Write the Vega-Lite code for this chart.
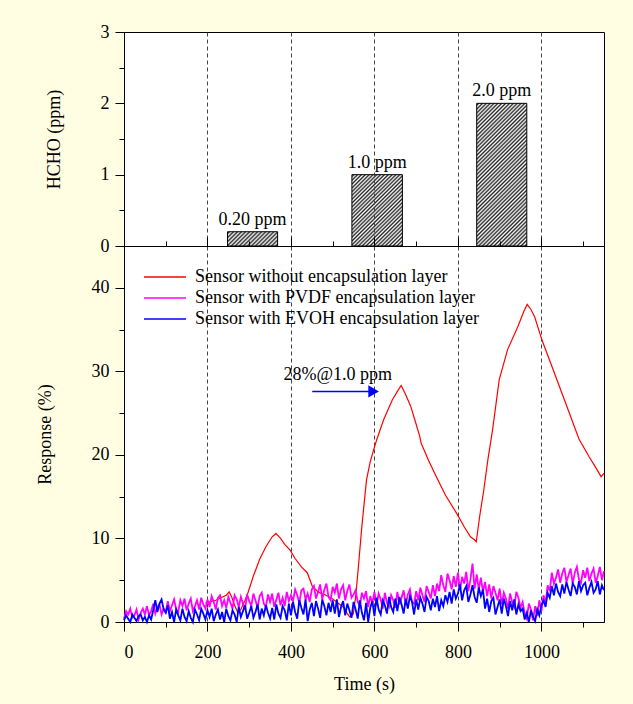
{
"$schema":"https://vega.github.io/schema/vega-lite/v6.json",
"background":"#FFFEE3",
"padding":{"left":35,"top":22,"right":30,"bottom":11},
"spacing":0,
"bounds":"flush",
"config":{
 "view":{"stroke":"black","strokeWidth":1,"fill":"white"},
 "font":"Liberation Serif",
 "axis":{"domainColor":"black","domainWidth":1,"tickColor":"black","tickWidth":1,"labelFont":"Liberation Serif","labelFontSize":18,"labelColor":"black","titleFont":"Liberation Serif","titleFontSize":18,"titleFontWeight":"normal","titleColor":"black","gridColor":"#444444","gridDash":[4,3],"gridWidth":1}
},
"datasets":{
 "bars":[
  {"start":248,"end":368,"mid":308,"c":0.2,"label":"0.20 ppm"},
  {"start":546,"end":667,"mid":606.5,"c":1.0,"label":"1.0 ppm"},
  {"start":845,"end":965,"mid":905,"c":2.0,"label":"2.0 ppm"}
 ],
 "red":[
  {"t":195,"r":2.3},{"t":205,"r":2.4},{"t":220,"r":2.6},{"t":232,"r":2.9},{"t":245,"r":3.2},{"t":252,"r":3.6},{"t":258,"r":3.0},{"t":265,"r":2.0},{"t":272,"r":1.2},{"t":280,"r":1.5},{"t":290,"r":2.6},{"t":297,"r":3.5},{"t":310,"r":5.5},{"t":325,"r":7.5},{"t":340,"r":9.0},{"t":355,"r":10.2},{"t":364,"r":10.6},{"t":375,"r":10.0},{"t":385,"r":9.3},{"t":398,"r":8.6},{"t":410,"r":7.6},{"t":425,"r":6.6},{"t":439,"r":5.9},{"t":451,"r":4.3},{"t":465,"r":3.6},{"t":480,"r":3.3},{"t":496,"r":2.9},{"t":512,"r":2.3},{"t":529,"r":1.6},{"t":535,"r":1.0},{"t":541,"r":0.6},{"t":549,"r":0.9},{"t":555,"r":3.0},{"t":561,"r":6.3},{"t":570,"r":11.5},{"t":581,"r":17.0},{"t":590,"r":19.2},{"t":598,"r":20.6},{"t":606,"r":21.9},{"t":622,"r":24.2},{"t":643,"r":26.6},{"t":655,"r":27.6},{"t":664,"r":28.3},{"t":675,"r":27.2},{"t":687,"r":25.8},{"t":698,"r":24.0},{"t":708,"r":22.3},{"t":712,"r":21.4},{"t":730,"r":19.3},{"t":748,"r":17.4},{"t":770,"r":15.2},{"t":797,"r":13.0},{"t":815,"r":11.4},{"t":830,"r":10.2},{"t":838,"r":9.9},{"t":844,"r":9.6},{"t":852,"r":12.6},{"t":862,"r":15.8},{"t":872,"r":19.5},{"t":883,"r":23.0},{"t":899,"r":29.0},{"t":919,"r":32.6},{"t":944,"r":35.4},{"t":958,"r":37.2},{"t":966,"r":38.0},{"t":975,"r":37.4},{"t":984,"r":36.5},{"t":1001,"r":33.8},{"t":1025,"r":30.6},{"t":1058,"r":26.2},{"t":1090,"r":21.9},{"t":1114,"r":19.8},{"t":1130,"r":18.5},{"t":1143,"r":17.4},{"t":1150,"r":17.8}
 ],
 "noisy":[
  {"t":0,"p":0.4,"b":0.2},{"t":5,"p":1.3,"b":0.8},{"t":10,"p":0.9,"b":0.4},{"t":15,"p":1.6,"b":0.0},{"t":20,"p":0.5,"b":0.9},{"t":25,"p":0.8,"b":0.5},{"t":30,"p":1.5,"b":0.1},{"t":35,"p":0.3,"b":0.7},{"t":40,"p":1.1,"b":0.9},{"t":45,"p":1.6,"b":0.2},{"t":50,"p":0.9,"b":0.6},
  {"t":55,"p":1.9,"b":0.0},{"t":60,"p":0.8,"b":0.8},{"t":65,"p":1.3,"b":0.3},{"t":70,"p":2.2,"b":1.4},{"t":75,"p":1.0,"b":2.6},{"t":80,"p":1.8,"b":1.2},{"t":85,"p":2.1,"b":2.2},{"t":90,"p":0.9,"b":2.7},{"t":95,"p":1.6,"b":1.5},{"t":100,"p":1.2,"b":1.1},
  {"t":105,"p":2.5,"b":2.0},{"t":110,"p":1.3,"b":0.4},{"t":115,"p":2.0,"b":1.2},{"t":120,"p":2.7,"b":0.0},{"t":125,"p":1.5,"b":1.5},{"t":130,"p":1.2,"b":0.8},{"t":135,"p":2.6,"b":0.2},{"t":140,"p":1.9,"b":1.6},{"t":145,"p":2.8,"b":0.6},{"t":150,"p":1.4,"b":0.1},
  {"t":155,"p":2.2,"b":1.3},{"t":160,"p":2.8,"b":0.5},{"t":165,"p":1.3,"b":0.0},{"t":170,"p":1.9,"b":1.5},{"t":175,"p":2.6,"b":0.9},{"t":180,"p":1.5,"b":0.2},{"t":185,"p":2.9,"b":1.6},{"t":190,"p":2.1,"b":1.0},{"t":195,"p":1.6,"b":0.3},{"t":200,"p":2.7,"b":1.4},
  {"t":205,"p":1.8,"b":0.6},{"t":210,"p":3.1,"b":1.6},{"t":215,"p":2.4,"b":0.1},{"t":220,"p":1.5,"b":0.9},{"t":225,"p":2.9,"b":1.5},{"t":230,"p":3.2,"b":0.3},{"t":235,"p":1.9,"b":1.2},{"t":240,"p":2.6,"b":0.0},{"t":245,"p":1.7,"b":1.6},{"t":250,"p":3.0,"b":0.7},
  {"t":255,"p":2.3,"b":0.2},{"t":260,"p":1.6,"b":1.4},{"t":265,"p":3.2,"b":0.9},{"t":270,"p":2.7,"b":0.0},{"t":275,"p":1.8,"b":1.8},{"t":280,"p":3.0,"b":0.6},{"t":285,"p":2.2,"b":1.3},{"t":290,"p":1.5,"b":2.0},{"t":295,"p":3.3,"b":0.4},{"t":300,"p":2.5,"b":1.1},
  {"t":305,"p":1.9,"b":1.9},{"t":310,"p":3.4,"b":0.5},{"t":315,"p":2.6,"b":1.2},{"t":320,"p":1.7,"b":2.1},{"t":325,"p":3.1,"b":0.3},{"t":330,"p":3.5,"b":1.6},{"t":335,"p":2.2,"b":0.8},{"t":340,"p":1.8,"b":2.0},{"t":345,"p":3.3,"b":1.1},{"t":350,"p":2.4,"b":0.4},
  {"t":355,"p":3.4,"b":1.7},{"t":360,"p":1.8,"b":0.3},{"t":365,"p":2.7,"b":2.1},{"t":370,"p":3.5,"b":1.0},{"t":375,"p":2.0,"b":0.5},{"t":380,"p":2.9,"b":1.9},{"t":385,"p":1.9,"b":1.4},{"t":390,"p":3.6,"b":0.2},{"t":395,"p":2.5,"b":2.2},{"t":400,"p":3.2,"b":0.8},
  {"t":405,"p":2.5,"b":2.4},{"t":410,"p":3.9,"b":1.2},{"t":415,"p":3.2,"b":0.4},{"t":420,"p":2.3,"b":2.6},{"t":425,"p":3.8,"b":1.7},{"t":430,"p":4.0,"b":0.9},{"t":435,"p":2.7,"b":2.7},{"t":440,"p":3.4,"b":0.1},{"t":445,"p":2.4,"b":1.5},{"t":450,"p":3.9,"b":2.3},
  {"t":455,"p":4.3,"b":0.7},{"t":460,"p":2.8,"b":2.5},{"t":465,"p":3.6,"b":1.6},{"t":470,"p":4.5,"b":0.5},{"t":475,"p":2.7,"b":2.7},{"t":480,"p":3.9,"b":1.9},{"t":485,"p":4.6,"b":0.8},{"t":490,"p":3.0,"b":2.3},{"t":495,"p":2.6,"b":1.2},{"t":500,"p":4.2,"b":2.6},
  {"t":505,"p":3.5,"b":1.0},{"t":510,"p":4.6,"b":2.7},{"t":515,"p":2.8,"b":0.6},{"t":520,"p":3.9,"b":1.8},{"t":525,"p":4.4,"b":2.5},{"t":530,"p":2.6,"b":0.8},{"t":535,"p":3.7,"b":2.2},{"t":540,"p":4.5,"b":1.4},{"t":545,"p":2.9,"b":0.5},{"t":550,"p":3.3,"b":2.4},
  {"t":555,"p":3.8,"b":1.5},{"t":560,"p":2.4,"b":0.4},{"t":565,"p":1.9,"b":2.6},{"t":570,"p":3.5,"b":1.1},{"t":575,"p":2.8,"b":0.2},{"t":580,"p":3.7,"b":2.3},{"t":585,"p":1.8,"b":0.0},{"t":590,"p":3.1,"b":1.7},{"t":595,"p":2.2,"b":2.5},{"t":600,"p":3.6,"b":0.7},
  {"t":605,"p":2.0,"b":2.9},{"t":610,"p":3.4,"b":1.5},{"t":615,"p":2.7,"b":0.9},{"t":620,"p":1.6,"b":2.6},{"t":625,"p":3.5,"b":2.0},{"t":630,"p":2.3,"b":1.0},{"t":635,"p":1.8,"b":3.0},{"t":640,"p":3.2,"b":1.8},{"t":645,"p":2.6,"b":1.2},{"t":650,"p":1.7,"b":2.8},
  {"t":655,"p":3.6,"b":1.3},{"t":660,"p":2.1,"b":3.0},{"t":665,"p":2.9,"b":2.1},{"t":670,"p":3.8,"b":1.0},{"t":675,"p":2.0,"b":2.8},{"t":680,"p":3.3,"b":1.6},{"t":685,"p":3.9,"b":3.1},{"t":690,"p":2.4,"b":2.4},{"t":695,"p":2.2,"b":0.9},{"t":700,"p":3.7,"b":2.7},
  {"t":705,"p":2.6,"b":1.5},{"t":710,"p":4.1,"b":2.9},{"t":715,"p":3.2,"b":2.2},{"t":720,"p":2.4,"b":1.2},{"t":725,"p":4.3,"b":3.0},{"t":730,"p":3.6,"b":2.5},{"t":735,"p":2.8,"b":1.4},{"t":740,"p":4.4,"b":2.8},{"t":745,"p":3.1,"b":1.8},{"t":750,"p":4.6,"b":3.1},
  {"t":755,"p":3.7,"b":1.3},{"t":760,"p":5.6,"b":2.6},{"t":765,"p":4.4,"b":1.9},{"t":770,"p":3.6,"b":3.2},{"t":775,"p":5.8,"b":2.4},{"t":780,"p":5.0,"b":3.6},{"t":785,"p":3.9,"b":2.2},{"t":790,"p":5.5,"b":3.9},{"t":795,"p":4.2,"b":2.8},{"t":800,"p":5.9,"b":3.4},
  {"t":805,"p":3.8,"b":4.5},{"t":810,"p":5.4,"b":2.6},{"t":815,"p":4.6,"b":3.8},{"t":820,"p":6.0,"b":4.3},{"t":825,"p":3.7,"b":2.4},{"t":830,"p":5.1,"b":3.3},{"t":835,"p":7.0,"b":4.4},{"t":840,"p":4.0,"b":3.0},{"t":845,"p":5.7,"b":2.3},{"t":850,"p":3.9,"b":4.1},
  {"t":855,"p":5.3,"b":3.1},{"t":860,"p":3.6,"b":3.9},{"t":865,"p":4.8,"b":1.6},{"t":870,"p":3.1,"b":2.8},{"t":875,"p":4.5,"b":1.2},{"t":880,"p":2.8,"b":2.5},{"t":885,"p":4.3,"b":2.9},{"t":890,"p":3.5,"b":0.9},{"t":895,"p":2.6,"b":1.8},{"t":900,"p":4.0,"b":2.7},
  {"t":905,"p":2.1,"b":1.0},{"t":910,"p":3.5,"b":2.8},{"t":915,"p":2.8,"b":1.9},{"t":920,"p":1.6,"b":0.7},{"t":925,"p":3.4,"b":2.5},{"t":930,"p":2.4,"b":1.4},{"t":935,"p":1.8,"b":2.7},{"t":940,"p":3.6,"b":0.9},{"t":945,"p":2.9,"b":2.1},{"t":950,"p":1.7,"b":1.3},
  {"t":955,"p":2.4,"b":1.6},{"t":960,"p":1.0,"b":0.3},{"t":965,"p":0.4,"b":1.1},{"t":970,"p":2.2,"b":0.0},{"t":975,"p":1.5,"b":1.4},{"t":980,"p":0.2,"b":0.6},{"t":985,"p":1.9,"b":0.1},{"t":990,"p":0.7,"b":1.5},{"t":995,"p":2.6,"b":0.8},{"t":1000,"p":1.3,"b":2.0},
  {"t":1005,"p":3.2,"b":2.6},{"t":1010,"p":2.3,"b":1.8},{"t":1015,"p":4.4,"b":3.5},{"t":1020,"p":3.7,"b":2.9},{"t":1025,"p":5.9,"b":4.3},{"t":1030,"p":4.6,"b":3.2},{"t":1035,"p":5.3,"b":4.6},{"t":1040,"p":6.3,"b":3.6},{"t":1045,"p":4.7,"b":3.1},{"t":1050,"p":5.8,"b":4.5},
  {"t":1055,"p":6.5,"b":3.4},{"t":1060,"p":4.8,"b":4.8},{"t":1065,"p":5.6,"b":3.9},{"t":1070,"p":6.4,"b":3.1},{"t":1075,"p":4.6,"b":4.6},{"t":1080,"p":5.9,"b":4.2},{"t":1085,"p":6.6,"b":3.3},{"t":1090,"p":5.1,"b":4.9},{"t":1095,"p":4.7,"b":3.7},{"t":1100,"p":6.2,"b":4.4},
  {"t":1105,"p":5.3,"b":4.7},{"t":1110,"p":6.5,"b":3.2},{"t":1115,"p":4.9,"b":4.1},{"t":1120,"p":5.8,"b":4.8},{"t":1125,"p":6.4,"b":3.5},{"t":1130,"p":4.7,"b":3.9},{"t":1135,"p":5.5,"b":4.9},{"t":1140,"p":6.6,"b":3.3},{"t":1145,"p":5.0,"b":4.4},{"t":1150,"p":6.1,"b":3.8}
 ],
 "label":[{"t":512,"v":29.6,"text":"28%@1.0 ppm"}],
 "arrow":[{"t":451,"t2":592,"v":27.6}],
 "head":[{"t":598,"v":27.6}]
},
"resolve":{"scale":{"color":"independent"},"legend":{"color":"independent"}},
"vconcat":[
 {
  "width":480,"height":214,
  "data":{"name":"bars"},
  "encoding":{
   "x":{"field":"start","type":"quantitative","scale":{"domain":[0,1150],"nice":false,"zero":false},
        "axis":{"orient":"bottom","values":[0,100,200,300,400,500,600,700,800,900,1000,1100],"labels":false,"ticks":false,"title":null,"domain":true,"grid":true,"gridOpacity":{"condition":{"test":"datum.value % 200 == 0 && datum.value > 0","value":1},"value":0},"zindex":1}},
   "y":{"field":"c","type":"quantitative","scale":{"domain":[0,3],"nice":false,"zero":true},
        "axis":{"values":[0,0.5,1,1.5,2,2.5,3],"labelExpr":"datum.value % 1 == 0 ? format(datum.value, 'd') : ''","tickSize":{"condition":{"test":"datum.value % 1 == 0","value":9},"value":5},"labelPadding":6,"grid":false,"title":"HCHO (ppm)","titlePadding":37}}
  },
  "layer":[
   {"transform":[{"filter":"datum.c == 0.2"}],
    "mark":{"type":"bar","stroke":"black","strokeWidth":1,
     "fill":{"gradient":"linear","x1":0,"y1":0,"x2":1.189,"y2":0.34,"stops":[
{"offset":0,"color":"#fff"},{"offset":0.03125,"color":"#222"},{"offset":0.0625,"color":"#fff"},{"offset":0.09375,"color":"#222"},{"offset":0.125,"color":"#fff"},{"offset":0.15625,"color":"#222"},{"offset":0.1875,"color":"#fff"},{"offset":0.21875,"color":"#222"},{"offset":0.25,"color":"#fff"},{"offset":0.28125,"color":"#222"},{"offset":0.3125,"color":"#fff"},{"offset":0.34375,"color":"#222"},{"offset":0.375,"color":"#fff"},{"offset":0.40625,"color":"#222"},{"offset":0.4375,"color":"#fff"},{"offset":0.46875,"color":"#222"},{"offset":0.5,"color":"#fff"},{"offset":0.53125,"color":"#222"},{"offset":0.5625,"color":"#fff"},{"offset":0.59375,"color":"#222"},{"offset":0.625,"color":"#fff"},{"offset":0.65625,"color":"#222"},{"offset":0.6875,"color":"#fff"},{"offset":0.71875,"color":"#222"},{"offset":0.75,"color":"#fff"},{"offset":0.78125,"color":"#222"},{"offset":0.8125,"color":"#fff"},{"offset":0.84375,"color":"#222"},{"offset":0.875,"color":"#fff"},{"offset":0.90625,"color":"#222"},{"offset":0.9375,"color":"#fff"},{"offset":0.96875,"color":"#222"},{"offset":1,"color":"#fff"}]}},
    "encoding":{"x2":{"field":"end"},"y2":{"datum":0}}},
   {"transform":[{"filter":"datum.c == 1"}],
    "mark":{"type":"bar","stroke":"black","strokeWidth":1,
     "fill":{"gradient":"linear","x1":0,"y1":0,"x2":0.8,"y2":1.141,"stops":[
{"offset":0,"color":"#fff"},{"offset":0.015625,"color":"#222"},{"offset":0.03125,"color":"#fff"},{"offset":0.046875,"color":"#222"},{"offset":0.0625,"color":"#fff"},{"offset":0.078125,"color":"#222"},{"offset":0.09375,"color":"#fff"},{"offset":0.109375,"color":"#222"},{"offset":0.125,"color":"#fff"},{"offset":0.140625,"color":"#222"},{"offset":0.15625,"color":"#fff"},{"offset":0.171875,"color":"#222"},{"offset":0.1875,"color":"#fff"},{"offset":0.203125,"color":"#222"},{"offset":0.21875,"color":"#fff"},{"offset":0.234375,"color":"#222"},{"offset":0.25,"color":"#fff"},{"offset":0.265625,"color":"#222"},{"offset":0.28125,"color":"#fff"},{"offset":0.296875,"color":"#222"},{"offset":0.3125,"color":"#fff"},{"offset":0.328125,"color":"#222"},{"offset":0.34375,"color":"#fff"},{"offset":0.359375,"color":"#222"},{"offset":0.375,"color":"#fff"},{"offset":0.390625,"color":"#222"},{"offset":0.40625,"color":"#fff"},{"offset":0.421875,"color":"#222"},{"offset":0.4375,"color":"#fff"},{"offset":0.453125,"color":"#222"},{"offset":0.46875,"color":"#fff"},{"offset":0.484375,"color":"#222"},{"offset":0.5,"color":"#fff"},{"offset":0.515625,"color":"#222"},{"offset":0.53125,"color":"#fff"},{"offset":0.546875,"color":"#222"},{"offset":0.5625,"color":"#fff"},{"offset":0.578125,"color":"#222"},{"offset":0.59375,"color":"#fff"},{"offset":0.609375,"color":"#222"},{"offset":0.625,"color":"#fff"},{"offset":0.640625,"color":"#222"},{"offset":0.65625,"color":"#fff"},{"offset":0.671875,"color":"#222"},{"offset":0.6875,"color":"#fff"},{"offset":0.703125,"color":"#222"},{"offset":0.71875,"color":"#fff"},{"offset":0.734375,"color":"#222"},{"offset":0.75,"color":"#fff"},{"offset":0.765625,"color":"#222"},{"offset":0.78125,"color":"#fff"},{"offset":0.796875,"color":"#222"},{"offset":0.8125,"color":"#fff"},{"offset":0.828125,"color":"#222"},{"offset":0.84375,"color":"#fff"},{"offset":0.859375,"color":"#222"},{"offset":0.875,"color":"#fff"},{"offset":0.890625,"color":"#222"},{"offset":0.90625,"color":"#fff"},{"offset":0.921875,"color":"#222"},{"offset":0.9375,"color":"#fff"},{"offset":0.953125,"color":"#222"},{"offset":0.96875,"color":"#fff"},{"offset":0.984375,"color":"#222"},{"offset":1,"color":"#fff"}]}},
    "encoding":{"x2":{"field":"end"},"y2":{"datum":0}}},
   {"transform":[{"filter":"datum.c == 2"}],
    "mark":{"type":"bar","stroke":"black","strokeWidth":1,
     "fill":{"gradient":"linear","x1":0,"y1":0,"x2":0.4214,"y2":1.2027,"stops":[
{"offset":0,"color":"#fff"},{"offset":0.01,"color":"#222"},{"offset":0.02,"color":"#fff"},{"offset":0.03,"color":"#222"},{"offset":0.04,"color":"#fff"},{"offset":0.05,"color":"#222"},{"offset":0.06,"color":"#fff"},{"offset":0.07,"color":"#222"},{"offset":0.08,"color":"#fff"},{"offset":0.09,"color":"#222"},{"offset":0.1,"color":"#fff"},{"offset":0.11,"color":"#222"},{"offset":0.12,"color":"#fff"},{"offset":0.13,"color":"#222"},{"offset":0.14,"color":"#fff"},{"offset":0.15,"color":"#222"},{"offset":0.16,"color":"#fff"},{"offset":0.17,"color":"#222"},{"offset":0.18,"color":"#fff"},{"offset":0.19,"color":"#222"},{"offset":0.2,"color":"#fff"},{"offset":0.21,"color":"#222"},{"offset":0.22,"color":"#fff"},{"offset":0.23,"color":"#222"},{"offset":0.24,"color":"#fff"},{"offset":0.25,"color":"#222"},{"offset":0.26,"color":"#fff"},{"offset":0.27,"color":"#222"},{"offset":0.28,"color":"#fff"},{"offset":0.29,"color":"#222"},{"offset":0.3,"color":"#fff"},{"offset":0.31,"color":"#222"},{"offset":0.32,"color":"#fff"},{"offset":0.33,"color":"#222"},{"offset":0.34,"color":"#fff"},{"offset":0.35,"color":"#222"},{"offset":0.36,"color":"#fff"},{"offset":0.37,"color":"#222"},{"offset":0.38,"color":"#fff"},{"offset":0.39,"color":"#222"},{"offset":0.4,"color":"#fff"},{"offset":0.41,"color":"#222"},{"offset":0.42,"color":"#fff"},{"offset":0.43,"color":"#222"},{"offset":0.44,"color":"#fff"},{"offset":0.45,"color":"#222"},{"offset":0.46,"color":"#fff"},{"offset":0.47,"color":"#222"},{"offset":0.48,"color":"#fff"},{"offset":0.49,"color":"#222"},{"offset":0.5,"color":"#fff"},{"offset":0.51,"color":"#222"},{"offset":0.52,"color":"#fff"},{"offset":0.53,"color":"#222"},{"offset":0.54,"color":"#fff"},{"offset":0.55,"color":"#222"},{"offset":0.56,"color":"#fff"},{"offset":0.57,"color":"#222"},{"offset":0.58,"color":"#fff"},{"offset":0.59,"color":"#222"},{"offset":0.6,"color":"#fff"},{"offset":0.61,"color":"#222"},{"offset":0.62,"color":"#fff"},{"offset":0.63,"color":"#222"},{"offset":0.64,"color":"#fff"},{"offset":0.65,"color":"#222"},{"offset":0.66,"color":"#fff"},{"offset":0.67,"color":"#222"},{"offset":0.68,"color":"#fff"},{"offset":0.69,"color":"#222"},{"offset":0.7,"color":"#fff"},{"offset":0.71,"color":"#222"},{"offset":0.72,"color":"#fff"},{"offset":0.73,"color":"#222"},{"offset":0.74,"color":"#fff"},{"offset":0.75,"color":"#222"},{"offset":0.76,"color":"#fff"},{"offset":0.77,"color":"#222"},{"offset":0.78,"color":"#fff"},{"offset":0.79,"color":"#222"},{"offset":0.8,"color":"#fff"},{"offset":0.81,"color":"#222"},{"offset":0.82,"color":"#fff"},{"offset":0.83,"color":"#222"},{"offset":0.84,"color":"#fff"},{"offset":0.85,"color":"#222"},{"offset":0.86,"color":"#fff"},{"offset":0.87,"color":"#222"},{"offset":0.88,"color":"#fff"},{"offset":0.89,"color":"#222"},{"offset":0.9,"color":"#fff"},{"offset":0.91,"color":"#222"},{"offset":0.92,"color":"#fff"},{"offset":0.93,"color":"#222"},{"offset":0.94,"color":"#fff"},{"offset":0.95,"color":"#222"},{"offset":0.96,"color":"#fff"},{"offset":0.97,"color":"#222"},{"offset":0.98,"color":"#fff"},{"offset":0.99,"color":"#222"},{"offset":1,"color":"#fff"}]}},
    "encoding":{"x2":{"field":"end"},"y2":{"datum":0}}},
   {"mark":{"type":"text","baseline":"bottom","dy":-3,"fontSize":18,"font":"Liberation Serif","color":"black"},
    "encoding":{"x":{"field":"mid","type":"quantitative"},"text":{"field":"label"}}}
  ]
 },
 {
  "width":480,"height":376,
  "resolve":{"axis":{"x":"independent"}},
  "layer":[
   {"data":{"name":"red"},"transform":[{"fold":["r"],"as":["s","v"]}],
    "mark":{"type":"line","strokeWidth":1.2},
    "encoding":{
     "x":{"field":"t","type":"quantitative","scale":{"domain":[0,1150],"nice":false,"zero":false},
          "axis":{"orient":"bottom","values":[0,100,200,300,400,500,600,700,800,900,1000,1100],"format":"d","labelExpr":"datum.value % 200 == 0 ? datum.label : ''","tickSize":{"condition":{"test":"datum.value % 200 == 0","value":9},"value":5},"labelPadding":12,"title":"Time (s)","titlePadding":14,"grid":true,"gridOpacity":{"condition":{"test":"datum.value % 200 == 0 && datum.value > 0","value":1},"value":0}}},
     "y":{"field":"v","type":"quantitative","scale":{"domain":[0,45],"nice":false,"zero":true},
          "axis":{"values":[0,5,10,15,20,25,30,35,40],"labelExpr":"datum.value % 10 == 0 ? datum.label : ''","tickSize":{"condition":{"test":"datum.value % 10 == 0","value":9},"value":5},"labelPadding":6,"grid":false,"title":"Response (%)","titlePadding":37}},
     "color":{"field":"s","type":"nominal","scale":{"domain":["r","p","b"],"range":["#ff0000","#ff00ff","#0000ff"]},
          "legend":{"orient":"none","legendX":32,"legendY":22,"title":null,"symbolType":"M-3.5,0H3.5","symbolSize":144,"symbolStrokeWidth":1.5,"labelFont":"Liberation Serif","labelFontSize":18,"labelColor":"black","labelOffset":21,"labelLimit":400,"rowPadding":3,"padding":0,
           "labelExpr":"datum.value == 'r' ? 'Sensor without encapsulation layer' : datum.value == 'p' ? 'Sensor with PVDF encapsulation layer' : 'Sensor with EVOH encapsulation layer'"}}
    }},
   {"data":{"name":"noisy"},"transform":[{"fold":["p","b"],"as":["s","v"]}],
    "mark":{"type":"line","strokeWidth":1.8},
    "encoding":{
     "x":{"field":"t","type":"quantitative","axis":{"orient":"top","values":[0,100,200,300,400,500,600,700,800,900,1000,1100],"labels":false,"tickSize":{"condition":{"test":"datum.value % 200 == 0","value":9},"value":5},"grid":false,"title":null,"domain":true}},
     "y":{"field":"v","type":"quantitative"},
     "color":{"field":"s","type":"nominal"}
    }},
   {"data":{"name":"label"},
    "mark":{"type":"text","fontSize":18,"font":"Liberation Serif","color":"black","baseline":"middle"},
    "encoding":{"x":{"field":"t","type":"quantitative","axis":null},"y":{"field":"v","type":"quantitative"},"text":{"field":"text"}}},
   {"data":{"name":"arrow"},
    "mark":{"type":"rule","color":"#0000ff","strokeWidth":1.5},
    "encoding":{"x":{"field":"t","type":"quantitative","axis":null},"x2":{"field":"t2"},"y":{"field":"v","type":"quantitative"}}},
   {"data":{"name":"head"},
    "mark":{"type":"point","shape":"triangle-right","filled":true,"color":"#0000ff","size":150,"opacity":1},
    "encoding":{"x":{"field":"t","type":"quantitative","axis":null},"y":{"field":"v","type":"quantitative"}}}
  ]
 }
]
}
